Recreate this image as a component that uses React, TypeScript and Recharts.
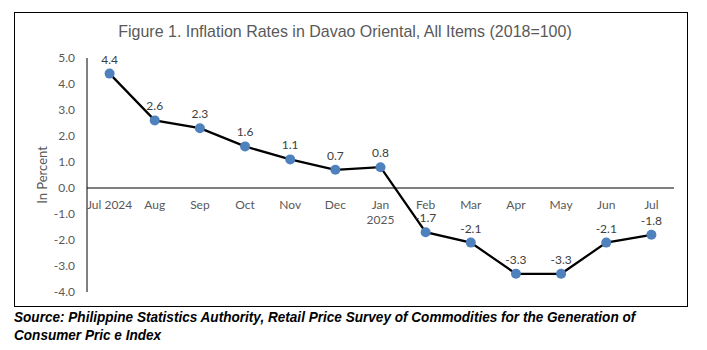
import { LineChart, Line, XAxis, YAxis, ReferenceLine, LabelList } from "recharts"

const months = ["Jul 2024", "Aug", "Sep", "Oct", "Nov", "Dec", "Jan\n2025", "Feb", "Mar", "Apr", "May", "Jun", "Jul"]
const rates = [4.4, 2.6, 2.3, 1.6, 1.1, 0.7, 0.8, -1.7, -2.1, -3.3, -3.3, -2.1, -1.8]
const yTicks = [-4, -3, -2, -1, 0, 1, 2, 3, 4, 5]

const data = months.map((m, i) => ({ month: m, rate: rates[i] }))

const CHART_W = 707
const CHART_H = 310
const PLOT_TOP = 58
const PLOT_H = 234
const Y_MIN = -4
const Y_MAX = 5

// the category labels sit under the zero line, not under the plot
const zeroShift = -PLOT_H * (0 - Y_MIN) / (Y_MAX - Y_MIN)

const MonthTick = (props: any) => {
  const { x, y, payload } = props
  const lines = String(payload.value).split("\n")
  return (
    <text x={x} y={y + zeroShift} textAnchor="middle" fill="#595959" fontSize={12} fontFamily="Lato, 'Open Sans', sans-serif">
      {lines.map((l, i) => (
        <tspan key={i} x={x} dy={i === 0 ? 13 : 15}>{l}</tspan>
      ))}
    </text>
  )
}

const narrow = "'Liberation Sans', Arial, sans-serif"

export default function App() {
  return (
    <div style={{ position: "absolute", left: 0, top: 0, width: 707, height: 350, background: "#fff", overflow: "hidden" }}>
      <div style={{ position: "absolute", left: 14, top: 12, width: 674, height: 295, border: "1px solid #000", boxSizing: "border-box" }} />
      <div style={{
        position: "absolute", left: 0, top: 22, width: 690, textAlign: "center", whiteSpace: "nowrap",
        fontFamily: narrow, fontSize: 17, color: "#595959", transform: "scaleX(0.94)", transformOrigin: "345px 0"
      }}>
        Figure 1. Inflation Rates in Davao Oriental, All Items (2018=100)
      </div>
      <div style={{ position: "absolute", left: 0, top: 0 }}>
        <LineChart width={CHART_W} height={CHART_H} data={data} margin={{ top: PLOT_TOP, right: 33, bottom: CHART_H - PLOT_TOP - PLOT_H - 1, left: 0 }}>
          <XAxis dataKey="month" height={1} axisLine={false} tickLine={false} interval={0}
            padding={{ left: 22.6, right: 22.6 }} tick={<MonthTick />} />
          <YAxis width={87} domain={[Y_MIN, Y_MAX]} ticks={yTicks} interval={0} allowDataOverflow
            tickFormatter={(v: number) => v.toFixed(1)} tickLine={false} tickSize={6} tickMargin={6}
            axisLine={{ stroke: "#000", strokeWidth: 1 }}
            tick={{ fill: "#595959", fontSize: 12, fontFamily: "Lato, 'Open Sans', sans-serif" }}
            label={{ value: "In Percent", angle: -90, position: "center", dx: -1, fill: "#595959", fontSize: 13, fontFamily: "Lato, 'Open Sans', sans-serif" }} />
          <ReferenceLine y={0} stroke="#000" strokeWidth={1} />
          <Line dataKey="rate" stroke="#000" strokeWidth={2.25} isAnimationActive={false}
            dot={{ r: 5, fill: "#4F81BD", stroke: "#4F81BD", strokeWidth: 0 }} activeDot={false}>
            <LabelList dataKey="rate" position="top" offset={10} fill="#404040" fontSize={12}
              fontFamily="Lato, 'Open Sans', sans-serif" formatter={(v: any) => Number(v).toFixed(1)} />
          </Line>
        </LineChart>
      </div>
      <div style={{
        position: "absolute", left: 14, top: 308, width: 760, whiteSpace: "nowrap",
        fontFamily: narrow, fontSize: 15, lineHeight: "18px", fontWeight: "bold", fontStyle: "italic", color: "#000",
        transform: "scaleX(0.905)", transformOrigin: "0 0"
      }}>
        Source: Philippine Statistics Authority, Retail Price Survey of Commodities for the Generation of<br />
        Consumer Pric e Index
      </div>
    </div>
  )
}
